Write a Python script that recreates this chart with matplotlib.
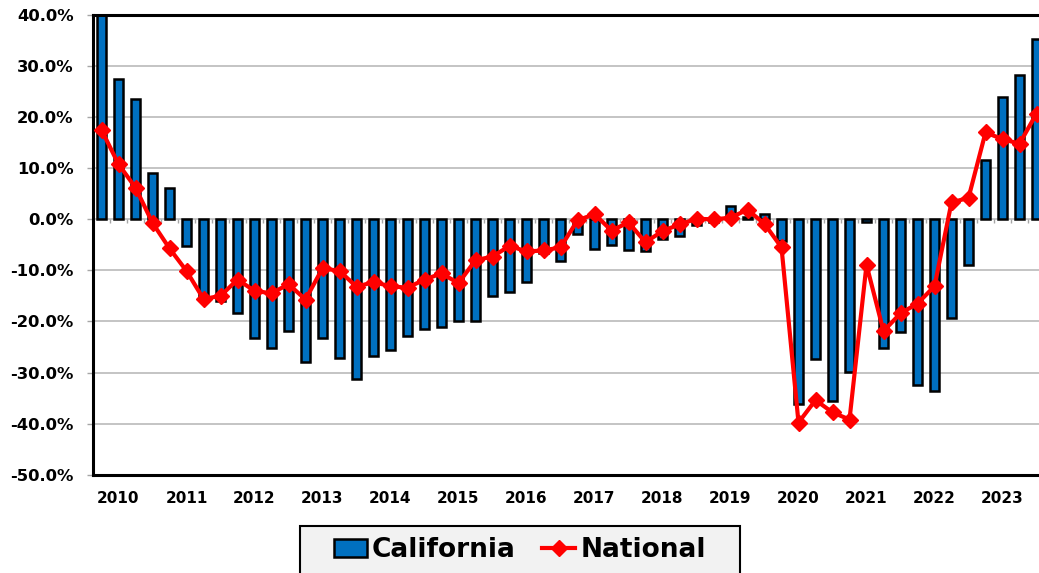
import numpy as np
import matplotlib
matplotlib.use("Agg")
import matplotlib.pyplot as plt
from matplotlib.ticker import FuncFormatter
from matplotlib.patches import Rectangle

# quarterly year-over-year change, 2010 Q1 .. 2023 Q4
california = [48.0, 27.5, 23.5, 9.0, 6.1, -5.2, -15.5, -16.0, -18.4, -23.3,
              -25.1, -21.8, -28.0, -23.3, -27.1, -31.3, -26.7, -25.5, -22.9, -21.4,
              -21.0, -20.0, -19.9, -15.0, -14.2, -12.3, -6.5, -8.1, -2.8, -5.8,
              -5.1, -6.1, -6.3, -3.9, -3.3, -1.1, -0.5, 2.6, 0.4, 1.1,
              -4.3, -36.2, -27.4, -35.5, -29.9, -0.5, -25.1, -22.1, -32.5, -33.6,
              -19.3, -9.0, 11.6, 24.0, 28.2, 35.3]
national = [17.5, 10.8, 6.2, -0.7, -5.7, -10.1, -15.6, -15.0, -11.8, -14.0,
            -14.5, -12.7, -15.7, -9.6, -10.1, -13.2, -12.3, -13.1, -13.4, -11.8,
            -10.6, -12.5, -8.0, -7.3, -5.2, -6.3, -6.1, -5.5, -0.2, 1.0,
            -2.2, -0.6, -4.5, -2.3, -1.0, 0.1, 0.0, 0.3, 1.9, -0.9,
            -5.5, -39.8, -35.4, -37.8, -39.2, -8.9, -21.9, -18.4, -16.5, -13.1,
            3.3, 4.2, 17.0, 15.7, 14.8, 20.7]
years = [str(y) for y in range(2010, 2024)]

W, H = 1039, 573
fig = plt.figure(figsize=(W / 100, H / 100), dpi=100)
ax = fig.add_axes([93 / W, (H - 474.7) / H, (W - 93) / W, (474.7 - 15) / H])

x = np.arange(len(california))
bars = ax.bar(x, california, width=0.55, color="#0070C0", edgecolor="black",
              linewidth=1.8, zorder=2, label="California")
line, = ax.plot(x, national, color="red", lw=3, marker="D", ms=8.5, mec="red",
                zorder=3, label="National")

# small category tick marks hanging from the zero line
ax.vlines(x + 0.5, -0.8, 0, color="#A6A6A6", lw=1, zorder=1)

ax.set_xlim(-0.5, -0.5 + (W - 93) / 17.0)
ax.set_ylim(-50, 40)
ax.set_yticks(np.arange(-50, 41, 10))
ax.yaxis.set_major_formatter(FuncFormatter(lambda v, p: f"{v:.1f}%"))
ax.set_xticks(np.arange(1, len(california), 4))
ax.set_xticklabels(years)
ax.tick_params(axis="x", length=0, pad=12, labelsize=11)
ax.tick_params(axis="y", length=4, width=1, color="#A6A6A6", pad=10, labelsize=11.8)
for lab in ax.get_xticklabels() + ax.get_yticklabels():
    lab.set_fontweight("bold")

ax.yaxis.grid(True, color="#BFBFBF", lw=1.3)
ax.set_axisbelow(True)
for s in ["top", "left", "bottom"]:
    ax.spines[s].set_linewidth(2.2)
    ax.spines[s].set_color("black")
ax.spines["right"].set_visible(False)

# legend box (cut off by the bottom edge, like the original)
fig.patches.append(Rectangle((300 / W, -0.05), 440 / W, (H - 525.7) / H + 0.05,
                             transform=fig.transFigure, facecolor="#F2F2F2",
                             edgecolor="black", lw=1.5, zorder=0))
fig.legend([bars, line], ["California", "National"], loc="center",
           bbox_to_anchor=(520 / W, 1 - 550 / H), ncol=2,
           frameon=False, prop={"weight": "bold", "size": 19},
           handlelength=1.25, handletextpad=0.2, columnspacing=1.0)

fig.savefig("out.png", dpi=100)
